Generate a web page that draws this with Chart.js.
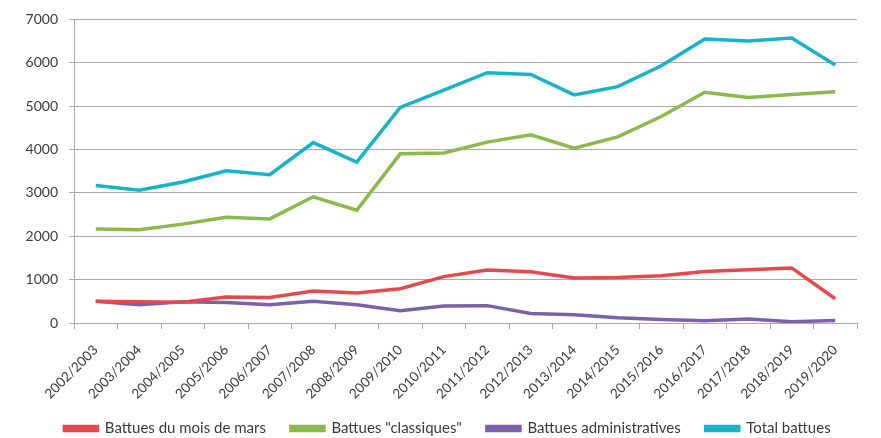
<!DOCTYPE html>
<html>
<head>
<meta charset="utf-8">
<script src="https://cdn.jsdelivr.net/npm/chart.js@4/dist/chart.umd.min.js"></script>
<style>
  html, body { margin: 0; padding: 0; background: #fff; }
  #wrap { width: 881px; height: 438px; }
</style>
</head>
<body>
<div id="wrap"><canvas id="battuesChart" width="881" height="438"></canvas></div>
<script>
const saisons = ["2002/2003", "2003/2004", "2004/2005", "2005/2006", "2006/2007", "2007/2008",
    "2008/2009", "2009/2010", "2010/2011", "2011/2012", "2012/2013", "2013/2014",
    "2014/2015", "2015/2016", "2016/2017", "2017/2018", "2018/2019", "2019/2020"];

const battuesMars = [500, 490, 480, 600, 590, 740, 690, 790, 1070, 1220, 1180, 1040, 1050, 1090, 1190, 1230, 1270, 560];
const battuesClassiques = [2170, 2150, 2280, 2440, 2400, 2910, 2600, 3900, 3920, 4170, 4340, 4030, 4290, 4760, 5320, 5200, 5270, 5330];
const battuesAdmin = [500, 420, 490, 470, 420, 500, 420, 280, 390, 400, 220, 190, 120, 80, 50, 90, 30, 60];
const totalBattues = [3170, 3060, 3250, 3510, 3420, 4160, 3710, 4970, 5370, 5770, 5730, 5260, 5450, 5930, 6550, 6500, 6570, 5950];

const yTicks = [0, 1000, 2000, 3000, 4000, 5000, 6000, 7000];

const GRID = "#ababab";
const TEXT = "#3c3c3c";

function serie(label, data, color) {
    return {
        label: label,
        data: data,
        borderColor: color,
        backgroundColor: color,
        borderWidth: 3.5,
        tension: 0,
        pointRadius: 0,
        fill: false
    };
}

// move the legend a bit right (under the middle of the plot) and up
const legendShift = {
    id: "legendShift",
    afterLayout(chart) {
        const lg = chart.legend;
        if (lg) {
            lg.left += 19;
            lg.right += 19;
            lg.top -= 5;
            lg.bottom -= 5;
        }
    }
};

Chart.defaults.font.family = "Lato, 'Open Sans', sans-serif";
Chart.defaults.font.size = 15;
Chart.defaults.color = TEXT;

new Chart(document.getElementById("battuesChart"), {
    type: "line",
    data: {
        labels: saisons,
        datasets: [
            serie("Battues du mois de mars", battuesMars, "#e5494d"),
            serie("Battues \"classiques\"", battuesClassiques, "#8cb94b"),
            serie("Battues administratives", battuesAdmin, "#7c61a9"),
            serie("Total battues", totalBattues, "#17b3c9")
        ]
    },
    options: {
        responsive: false,
        animation: false,
        layout: { padding: { top: 12, right: 24, left: 0, bottom: -13 } },
        plugins: {
            tooltip: { enabled: false },
            legend: {
                position: "bottom",
                labels: {
                    boxWidth: 33,
                    boxHeight: 4,
                    padding: 25,
                    color: TEXT,
                    font: { size: 15 }
                }
            }
        },
        scales: {
            x: {
                offset: true,
                grid: {
                    offset: true,
                    drawOnChartArea: false,
                    color: GRID,
                    tickLength: 6
                },
                border: { color: GRID },
                ticks: {
                    minRotation: 45,
                    maxRotation: 45,
                    padding: 13,
                    font: { size: 13.5 }
                },
                afterFit: (scale) => { scale.height = 78; }
            },
            y: {
                min: 0,
                max: 7000,
                afterBuildTicks: (scale) => { scale.ticks = yTicks.map(v => ({ value: v })); },
                grid: { color: GRID, tickLength: 5 },
                border: { color: GRID },
                ticks: {
                    padding: 11,
                    font: { size: 14 },
                    callback: (v) => String(v)
                },
                afterFit: (scale) => { scale.width = 74; }
            }
        }
    },
    plugins: [legendShift]
});
</script>
</body>
</html>
